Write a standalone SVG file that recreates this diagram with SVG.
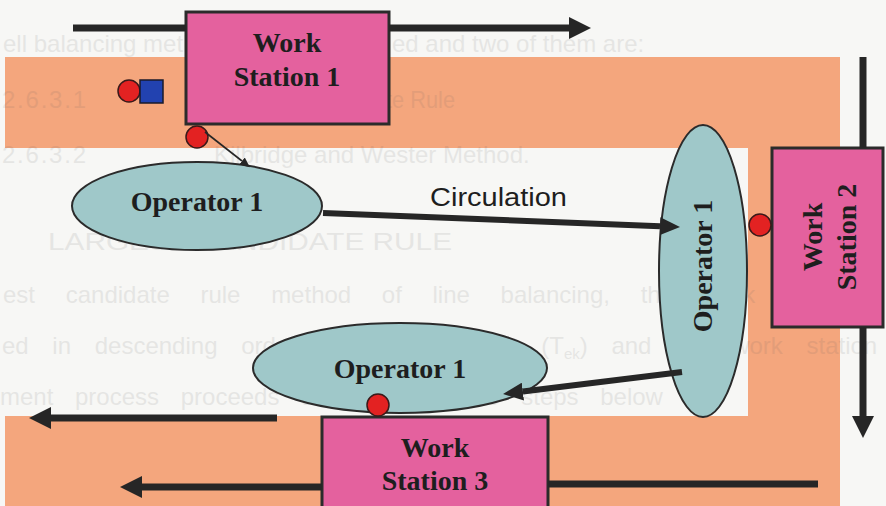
<svg xmlns="http://www.w3.org/2000/svg" width="886" height="506" viewBox="0 0 886 506">
  <style>
    .station { fill: #e4619e; stroke: #2b2b2b; stroke-width: 3; }
    .operator { fill: #9fc8c9; stroke: #2b2b2b; stroke-width: 2; }
    .label { font-family: "Liberation Serif", "Times New Roman", serif; font-weight: bold; font-size: 28px; fill: #1e1e1e; text-anchor: middle; }
    .token { fill: #e32222; stroke: #3a1a1a; stroke-width: 1.5; }
    .part { fill: #2242b0; stroke: #1a1a2a; stroke-width: 1.5; }
    .flow { stroke: #262626; stroke-width: 7; fill: none; }
    .move { stroke: #262626; stroke-width: 6; fill: none; }
    .thin { stroke: #262626; stroke-width: 1.6; fill: none; }
    .ghost { font-family: "Liberation Sans", Arial, sans-serif; font-size: 24px; fill: #5a5a5a; opacity: 0.11; }
  </style>
  <defs>
    <marker id="headL" markerUnits="userSpaceOnUse" markerWidth="22" markerHeight="22" viewBox="0 0 22 22" refX="0" refY="11" orient="auto">
      <path d="M0,0 L22,11 L0,22 Z" fill="#262626"/>
    </marker>
    <marker id="headM" markerUnits="userSpaceOnUse" markerWidth="20" markerHeight="18" viewBox="0 0 20 18" refX="0" refY="9" orient="auto">
      <path d="M0,0 L20,9 L0,18 Z" fill="#262626"/>
    </marker>
    <marker id="headS" markerUnits="userSpaceOnUse" markerWidth="10" markerHeight="9" viewBox="0 0 10 9" refX="0" refY="4.5" orient="auto">
      <path d="M0,0 L10,4.5 L0,9 Z" fill="#262626"/>
    </marker>
  </defs>

  <!-- page and U-shaped walkway band -->
  <rect x="0" y="0" width="886" height="506" fill="#f7f7f5"/>
  <path d="M5,57 H840 V506 H5 V416 H748 V148 H5 Z" fill="#f4a67d"/>

  <!-- faint print behind the layout -->
  <g id="backprint" class="ghost">
    <text x="3" y="52">ell balancing methods</text>
    <text x="392" y="52">ed and two of them are:</text>
    <text x="2" y="108" textLength="84" lengthAdjust="spacing">2.6.3.1</text>
    <text x="190" y="108" textLength="265" lengthAdjust="spacingAndGlyphs">The largest Candidate Rule</text>
    <text x="2" y="163" textLength="84" lengthAdjust="spacing">2.6.3.2</text>
    <text x="214" y="163">Kilbridge and Wester Method.</text>
    <text x="48" y="250" textLength="404" lengthAdjust="spacingAndGlyphs">LARGEST CANDIDATE RULE</text>
    <text x="3" y="303" word-spacing="24">est candidate rule method of line balancing, the work elements</text>
    <text x="2" y="354" word-spacing="17">ed in descending order of work content (T<tspan font-size="15" dy="5">ek</tspan><tspan dy="-5">) and the work station</tspan></text>
    <text x="0" y="405" word-spacing="15">ment process proceeds as listed in the steps below</text>
  </g>

  <!-- work stations -->
  <g id="ws1">
    <rect class="station" x="186" y="12" width="203" height="112"/>
    <text class="label" x="287" y="52">Work</text>
    <text class="label" x="287" y="86">Station 1</text>
  </g>
  <g id="ws2">
    <rect class="station" x="772" y="148" width="111" height="179"/>
    <text class="label" transform="translate(822,237) rotate(-90)">Work</text>
    <text class="label" transform="translate(856,237) rotate(-90)">Station 2</text>
  </g>
  <g id="ws3">
    <rect class="station" x="322" y="417" width="226" height="100"/>
    <text class="label" x="435" y="457">Work</text>
    <text class="label" x="435" y="490">Station 3</text>
  </g>

  <!-- operator positions -->
  <g id="op-a">
    <ellipse class="operator" cx="197" cy="206" rx="125" ry="44"/>
    <text class="label" x="197" y="211">Operator 1</text>
  </g>
  <g id="op-b">
    <ellipse class="operator" cx="703" cy="271" rx="44" ry="146"/>
    <text class="label" transform="translate(712,266) rotate(-90)">Operator 1</text>
  </g>
  <g id="op-c">
    <ellipse class="operator" cx="400" cy="368" rx="147" ry="45"/>
    <text class="label" x="400" y="378">Operator 1</text>
  </g>

  <!-- operator and part tokens -->
  <g id="token-idle">
    <circle class="token" cx="129" cy="91" r="11"/>
    <rect class="part" x="140" y="80" width="23" height="23"/>
  </g>
  <g id="token-ws1">
    <circle class="token" cx="197" cy="137" r="11"/>
  </g>
  <g id="token-ws2">
    <circle class="token" cx="760" cy="225" r="11"/>
  </g>
  <g id="token-ws3">
    <circle class="token" cx="378" cy="405" r="11"/>
  </g>

  <!-- connectors -->
  <g id="connectors">
    <line class="flow" x1="73" y1="28" x2="186" y2="28"/>
    <line class="flow" x1="389" y1="28" x2="569" y2="28" marker-end="url(#headL)"/>
    <line class="flow" x1="863" y1="57" x2="863" y2="148"/>
    <line class="flow" x1="863" y1="327" x2="863" y2="416" marker-end="url(#headL)"/>
    <line class="flow" x1="818" y1="484" x2="548" y2="484"/>
    <line class="flow" x1="322" y1="487" x2="142" y2="487" marker-end="url(#headL)"/>
    <line class="flow" x1="277" y1="418" x2="51" y2="418" marker-end="url(#headL)"/>
    <line class="move" x1="323" y1="213" x2="660" y2="226.2" marker-end="url(#headM)"/>
    <line class="move" x1="682" y1="372" x2="522.9" y2="391.6" marker-end="url(#headM)"/>
    <line class="thin" x1="205" y1="132" x2="242" y2="161" marker-end="url(#headS)"/>
    <text x="430" y="206" font-family="'Liberation Sans', Arial, sans-serif" font-size="25" textLength="137" lengthAdjust="spacingAndGlyphs" fill="#1e1e1e">Circulation</text>
  </g>
</svg>
